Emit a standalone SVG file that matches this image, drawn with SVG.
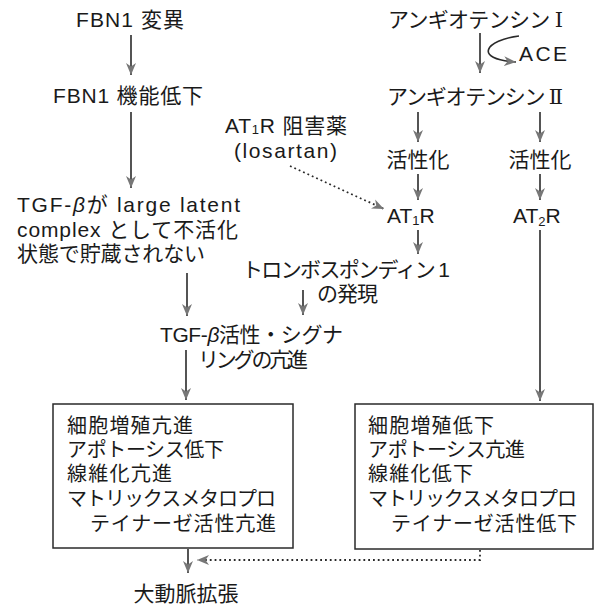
<svg xmlns="http://www.w3.org/2000/svg" width="596" height="607" viewBox="0 0 596 607">
<style>
text{font-family:"Liberation Sans","Noto Sans CJK JP",sans-serif;fill:#1a1a1a;font-size:21px}
.c{text-anchor:middle}
.b{font-size:20px}
.rn{font-family:"DejaVu Serif","Liberation Serif","Noto Sans CJK JP",serif}
.ln{stroke:#2a2a2a;stroke-width:1.6;fill:none}
.dot{stroke:#2a2a2a;stroke-width:1.8;fill:none;stroke-dasharray:1.8 3}
.box{fill:#fff;stroke:#2a2a2a;stroke-width:1.5}
</style>
<defs>
<marker id="ah" markerUnits="userSpaceOnUse" markerWidth="13" markerHeight="11" refX="12" refY="5.5" orient="auto">
<path d="M0,0.5 L12,5.5 L0,10.5 L3.5,5.5 z" fill="#777"/>
</marker>
</defs>
<rect width="596" height="607" fill="#fff"/>

<g id="connectors">
<line class="ln" x1="131" y1="35" x2="131" y2="75" marker-end="url(#ah)"/>
<line class="ln" x1="131" y1="112" x2="131" y2="188" marker-end="url(#ah)"/>
<line class="ln" x1="187" y1="273" x2="187" y2="316" marker-end="url(#ah)"/>
<line class="ln" x1="303" y1="290" x2="303" y2="315" marker-end="url(#ah)"/>
<line class="ln" x1="186" y1="350" x2="186" y2="400" marker-end="url(#ah)"/>
<line class="ln" x1="188" y1="549" x2="188" y2="573" marker-end="url(#ah)"/>
<line class="ln" x1="480" y1="33" x2="480" y2="73" marker-end="url(#ah)"/>
<path class="ln" d="M519,36 C486,40 472,59 516,62" marker-end="url(#ah)"/>
<line class="ln" x1="418" y1="112" x2="418" y2="142" marker-end="url(#ah)"/>
<line class="ln" x1="540" y1="112" x2="540" y2="142" marker-end="url(#ah)"/>
<line class="ln" x1="418" y1="174" x2="418" y2="200" marker-end="url(#ah)"/>
<line class="ln" x1="540" y1="174" x2="540" y2="200" marker-end="url(#ah)"/>
<line class="ln" x1="418" y1="230" x2="418" y2="254" marker-end="url(#ah)"/>
<line class="ln" x1="540" y1="230" x2="540" y2="401" marker-end="url(#ah)"/>
<line class="dot" x1="290" y1="166" x2="384" y2="209" marker-end="url(#ah)"/>
<polyline class="dot" points="480,550 480,560 197,560" marker-end="url(#ah)"/>
</g>

<g id="fbn1-mut"><text class="c" x="130" y="27" textLength="108" lengthAdjust="spacing">FBN1 変異</text></g>
<g id="fbn1-func"><text class="c" x="128" y="103" textLength="150" lengthAdjust="spacing">FBN1 機能低下</text></g>
<g id="tgf-latent">
<text x="17" y="212" textLength="223" lengthAdjust="spacing">TGF-<tspan font-style="italic">β</tspan>が large latent</text>
<text x="17" y="237" textLength="221" lengthAdjust="spacing">complex として不活化</text>
<text x="17" y="261" textLength="188" lengthAdjust="spacing">状態で貯蔵されない</text>
</g>
<g id="tgf-active">
<text x="160" y="342" textLength="183" lengthAdjust="spacing">TGF-<tspan font-style="italic">β</tspan>活性・シグナ</text>
<text x="198" y="367" textLength="110" lengthAdjust="spacing">リングの亢進</text>
</g>
<g id="ang1"><text x="388" y="27" textLength="175" lengthAdjust="spacing">アンギオテンシン <tspan class="rn">Ⅰ</tspan></text></g>
<g id="ace"><text x="519" y="61" textLength="48" lengthAdjust="spacing">ACE</text></g>
<g id="ang2"><text x="387" y="104" textLength="176" lengthAdjust="spacing">アンギオテンシン <tspan class="rn">Ⅱ</tspan></text></g>
<g id="act1"><text class="c" x="418" y="167">活性化</text></g>
<g id="act2"><text class="c" x="540" y="167">活性化</text></g>
<g id="at1r"><text x="387" y="223">AT<tspan font-size="13" dy="2">1</tspan><tspan dy="-2">R</tspan></text></g>
<g id="at2r"><text x="513" y="223">AT<tspan font-size="13" dy="3">2</tspan><tspan dy="-3">R</tspan></text></g>
<g id="blocker">
<text x="225" y="133" textLength="122" lengthAdjust="spacing">AT<tspan font-size="13" dy="1">1</tspan><tspan dy="-1">R 阻害薬</tspan></text>
<text x="234" y="158" font-size="20" textLength="103" lengthAdjust="spacing">(losartan)</text>
</g>
<g id="tsp1">
<text x="242" y="277" textLength="208" lengthAdjust="spacing">トロンボスポンディン 1</text>
<text x="317" y="301" textLength="61" lengthAdjust="spacing">の発現</text>
</g>
<g id="box-left">
<rect class="box" x="53" y="404" width="240" height="144"/>
<text class="b" x="67" y="433" textLength="126" lengthAdjust="spacing">細胞増殖亢進</text>
<text class="b" x="67" y="457" textLength="157" lengthAdjust="spacing">アポトーシス低下</text>
<text class="b" x="67" y="481" textLength="105" lengthAdjust="spacing">線維化亢進</text>
<text class="b" x="67" y="506" textLength="209" lengthAdjust="spacing">マトリックスメタロプロ</text>
<text class="b" x="90" y="531" textLength="186" lengthAdjust="spacing">テイナーゼ活性亢進</text>
</g>
<g id="box-right">
<rect class="box" x="355" y="404" width="238" height="145"/>
<text class="b" x="368" y="433" textLength="126" lengthAdjust="spacing">細胞増殖低下</text>
<text class="b" x="368" y="457" textLength="157" lengthAdjust="spacing">アポトーシス亢進</text>
<text class="b" x="368" y="481" textLength="105" lengthAdjust="spacing">線維化低下</text>
<text class="b" x="368" y="506" textLength="209" lengthAdjust="spacing">マトリックスメタロプロ</text>
<text class="b" x="391" y="531" textLength="186" lengthAdjust="spacing">テイナーゼ活性低下</text>
</g>
<g id="aorta"><text class="c" x="186" y="601" textLength="105" lengthAdjust="spacing">大動脈拡張</text></g>
</svg>
